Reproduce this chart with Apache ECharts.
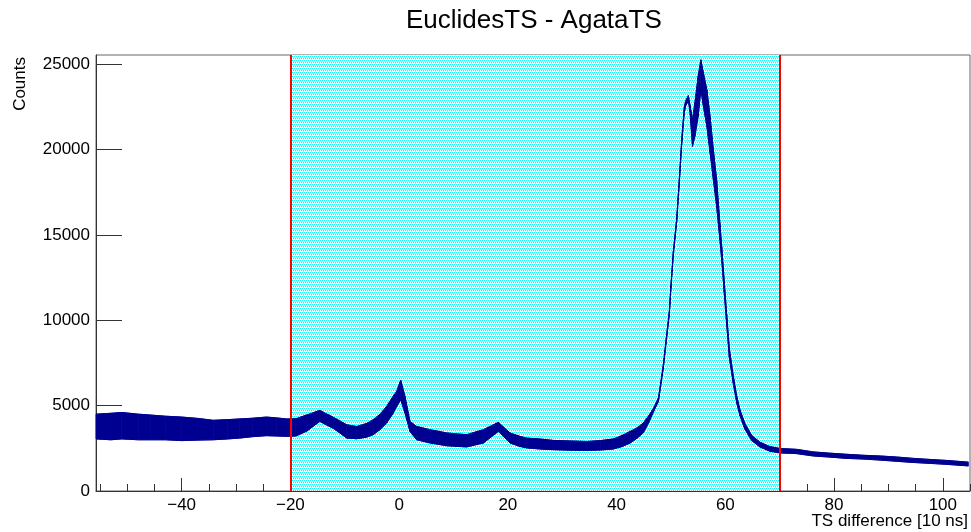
<!DOCTYPE html>
<html>
<head>
<meta charset="utf-8">
<script src="https://cdn.jsdelivr.net/npm/echarts@6/dist/echarts.min.js"></script>
<style>
html,body{margin:0;padding:0;background:#fff;}
#chart{width:971px;height:532px;}
</style>
</head>
<body>
<div id="chart"></div>
<script>
// ---- data (x in units of 10 ns, counts) ----
const xs = [-55.75,-53,-51,-48,-45.8,-43,-40,-37,-34.2,-31.5,-29.3,-27,-24.4,-22.5,-20.7,-19,-17,-14.6,-12,-9.65,-7.8,-6,-4.75,-3.5,-2.3,-1.2,-0.45,0.29,1.08,2,3.23,5.7,8.75,12.4,15.5,18.25,20.4,22.2,23.5,25.9,28.4,31.5,34.5,37,39.4,41,42.5,43.8,44.9,45.9,46.8,47.7,48.6,49.2,49.7,50.0,50.44,51.06,51.55,52.0,52.45,52.7,53.2,53.5,53.96,54.4,55.0,55.5,55.97,56.6,57.2,57.8,58.4,59.0,59.34,59.8,60.26,60.74,61.46,62.1,62.7,63.6,64.86,66.4,68.2,70.06,73.1,76.2,79,82.3,85.5,88.5,91.5,94.6,97.5,100.7,104.7];
const bandLow = [3050,3000,3050,3000,3000,3000,2950,2980,3000,3050,3100,3180,3240,3220,3200,3220,3500,4075,3650,3100,3060,3150,3300,3600,3980,4500,4950,5350,4570,3490,3000,2810,2650,2580,2810,3490,2810,2610,2520,2460,2420,2390,2380,2400,2460,2600,2810,3100,3400,4000,4650,5250,7200,8950,10320,11880,13830,15780,18100,20400,22150,22550,22850,22200,20180,20760,21930,23500,22520,21350,19790,18230,16660,14710,13500,11600,9700,7800,6300,5150,4400,3620,2950,2570,2330,2230,2190,2050,1990,1910,1870,1810,1740,1670,1620,1560,1470];
const bandHigh = [4500,4550,4600,4500,4450,4380,4330,4250,4140,4180,4220,4260,4330,4280,4220,4230,4450,4720,4300,3880,3780,3950,4175,4500,4950,5500,5830,6500,5540,4075,3780,3590,3400,3300,3590,4020,3400,3200,3100,3045,2960,2930,2900,2950,3045,3250,3490,3700,3980,4400,4850,5450,7400,9150,10520,12080,14030,15980,18350,20700,22450,22850,23150,22600,21740,22720,24280,25250,24470,23500,21930,19980,18230,15690,14300,12300,10300,8350,6750,5550,4750,3950,3250,2850,2600,2490,2440,2290,2220,2150,2090,2050,1990,1910,1850,1790,1690];
const xMajorTicks = [-40,-20,0,20,40,60,80,100];
const yMajorTicks = [0,5000,10000,15000,20000,25000];
const windowEdges = [-20, 70];

const X_MIN = -55.75, X_MAX = 105, Y_MIN = 0, Y_MAX = 25530;
const xMinorTicks = []; for (let v = -55; v <= 105; v += 5) xMinorTicks.push(v);
const yMinorTicks = []; for (let v = 0; v <= 25000; v += 1000) yMinorTicks.push(v);

const FONT = 'Liberation Sans, Arial, Helvetica, sans-serif';
const BAND = '#000090';

// dotted cyan fill (ROOT style fill pattern)
const tile = document.createElement('canvas');
tile.width = 4; tile.height = 4;
const tctx = tile.getContext('2d');
tctx.fillStyle = '#ffffff'; tctx.fillRect(0,0,4,4);
tctx.fillStyle = '#00ffff';
tctx.fillRect(0,0,1,1); tctx.fillRect(2,0,1,1);
tctx.fillRect(1,2,1,1); tctx.fillRect(3,2,1,1);
tctx.fillStyle = '#9ff7f7';
tctx.fillRect(1,1,1,1); tctx.fillRect(3,3,1,1);

const segs = [];
for (let i = 0; i < xs.length - 1; i++) {
  segs.push([xs[i], bandLow[i], bandHigh[i], xs[i+1], bandLow[i+1], bandHigh[i+1]]);
}

const chart = echarts.init(document.getElementById('chart'), null, {renderer: 'canvas'});
const axisBase = {
  type: 'value', splitLine: {show: false}, axisLine: {show: true, onZero: false, lineStyle: {color: '#333', width: 1}}
};
chart.setOption({
  animation: false,
  backgroundColor: '#ffffff',
  title: {
    text: 'EuclidesTS - AgataTS', left: 401, top: 3,
    textStyle: {fontFamily: FONT, fontSize: 26, fontWeight: 'normal', color: '#000'}
  },
  grid: {left: 96, right: 1, top: 55, bottom: 41, show: true, borderColor: '#666', borderWidth: 1, backgroundColor: 'transparent'},
  xAxis: [
    Object.assign({}, axisBase, {
      min: X_MIN, max: X_MAX, position: 'bottom',
      axisTick: {show: true, inside: true, length: 13, customValues: xMajorTicks, lineStyle: {color: '#333'}},
      axisLabel: {show: true, customValues: xMajorTicks, margin: 6, fontFamily: FONT, fontSize: 17, color: '#000',
        formatter: v => String(v).replace('-', '\u2212')}
    }),
    Object.assign({}, axisBase, {
      min: X_MIN, max: X_MAX, position: 'bottom', axisLine: {show: false},
      axisTick: {show: true, inside: true, length: 7, customValues: xMinorTicks, lineStyle: {color: '#333'}},
      axisLabel: {show: false}
    })
  ],
  yAxis: [
    Object.assign({}, axisBase, {
      min: Y_MIN, max: Y_MAX, position: 'left',
      axisTick: {show: true, inside: true, length: 26, customValues: yMajorTicks, lineStyle: {color: '#333'}},
      axisLabel: {show: true, customValues: yMajorTicks, margin: 6, fontFamily: FONT, fontSize: 17, color: '#000',
        formatter: v => String(v)}
    }),
    Object.assign({}, axisBase, {
      min: Y_MIN, max: Y_MAX, position: 'left', axisLine: {show: false},
      axisTick: {show: true, inside: true, length: 13, customValues: yMinorTicks, lineStyle: {color: '#333'}},
      axisLabel: {show: false}
    })
  ],
  graphic: [
    {type: 'text', x: 20, y: 57, rotation: Math.PI / 2,
      style: {text: 'Counts', fontFamily: FONT, fontSize: 17, fill: '#000', align: 'right', verticalAlign: 'middle'}},
    {type: 'text', x: 968, y: 521,
      style: {text: 'TS difference [10 ns]', fontFamily: FONT, fontSize: 17, fill: '#000', align: 'right', verticalAlign: 'middle'}}
  ],
  series: [
    {
      name: 'low edge', type: 'line', z: 1, xAxisIndex: 0, yAxisIndex: 0,
      data: xs.map((x, i) => [x, bandLow[i]]), showSymbol: false, symbol: 'none',
      lineStyle: {color: BAND, width: 1},
      markArea: {silent: true, itemStyle: {color: {image: tile, repeat: 'repeat'}},
        data: [[{xAxis: windowEdges[0]}, {xAxis: windowEdges[1]}]]}
    },
    {
      name: 'band', type: 'custom', z: 3, xAxisIndex: 0, yAxisIndex: 0,
      data: segs,
      encode: {x: [0, 3], y: [1, 2, 4, 5]},
      renderItem: function (params, api) {
        const a = api.coord([api.value(0), api.value(1)]);
        const b = api.coord([api.value(3), api.value(4)]);
        const c = api.coord([api.value(3), api.value(5)]);
        const d = api.coord([api.value(0), api.value(2)]);
        return {type: 'polygon', shape: {points: [a, b, c, d]},
          style: {fill: BAND, stroke: BAND, lineWidth: 0.8}};
      }
    },
    {
      name: 'high edge', type: 'line', z: 4, xAxisIndex: 0, yAxisIndex: 0,
      data: xs.map((x, i) => [x, bandHigh[i]]), showSymbol: false, symbol: 'none',
      lineStyle: {color: BAND, width: 1},
      markLine: {silent: true, symbol: ['none', 'none'], label: {show: false},
        lineStyle: {color: '#ff0000', width: 2, type: 'solid'},
        data: windowEdges.map(v => ({xAxis: v}))}
    }
  ]
});
</script>
</body>
</html>
